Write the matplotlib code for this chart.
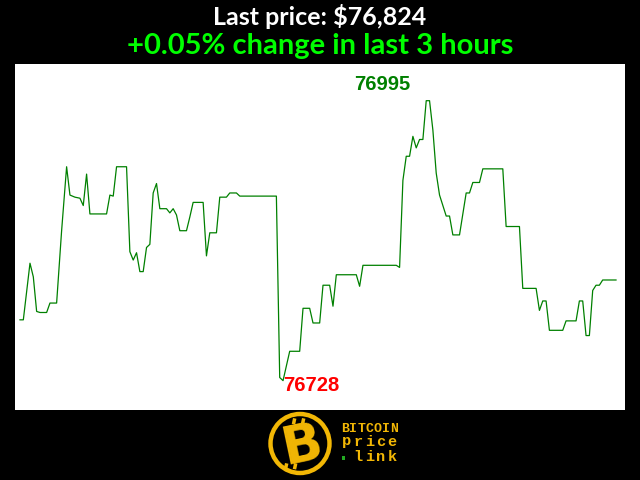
import matplotlib
matplotlib.use("Agg")
import matplotlib.pyplot as plt
from matplotlib.patches import Circle, Rectangle
import numpy as np

# minutes since start (3 hour window) and BTC price
minutes = [0, 1, 3, 4, 5, 6, 8, 9, 11, 12.5, 14, 15, 16.5, 18, 19, 20, 21, 26, 27, 28,
           29, 32, 33, 34, 35, 36, 37, 38, 39, 40, 41, 42, 44, 45, 46, 47, 48, 50, 51, 52,
           55, 56, 57, 59, 60, 62, 63, 65, 66, 77, 78, 79, 81, 84, 85, 87, 88, 90, 91, 93,
           94, 95, 101, 102, 103, 113, 114, 115, 116, 117, 118, 119, 120, 121, 122, 123, 124, 125, 126, 128,
           129, 130, 132, 134, 135, 136, 138, 139, 145, 146, 150, 151, 155, 156, 157, 158, 159, 163, 164, 167,
           168, 169, 170, 171, 172, 173, 174, 175, 179]
prices = [76786, 76786, 76840, 76827, 76794, 76793, 76793, 76802, 76802, 76871, 76932, 76905, 76903, 76902, 76895, 76925, 76887, 76887, 76905, 76904,
          76932, 76932, 76851, 76843, 76850, 76832, 76832, 76855, 76858, 76907, 76916, 76892, 76892, 76888, 76892, 76886, 76871, 76871, 76884, 76898,
          76898, 76847, 76869, 76869, 76903, 76903, 76907, 76907, 76904, 76904, 76731, 76728, 76756, 76756, 76797, 76797, 76783, 76783, 76819, 76819,
          76799, 76829, 76829, 76818, 76838, 76838, 76836, 76919, 76942, 76942, 76961, 76950, 76958, 76958, 76995, 76995, 76967, 76926, 76905, 76885,
          76885, 76867, 76867, 76907, 76907, 76917, 76917, 76930, 76930, 76875, 76875, 76816, 76816, 76795, 76804, 76804, 76776, 76776, 76785, 76785,
          76804, 76804, 76771, 76771, 76814, 76819, 76819, 76824, 76824]

last_price = prices[-1]
pct_change = (prices[-1] - prices[0]) / prices[0] * 100
hours = 3

fig = plt.figure(figsize=(6.4, 4.8), dpi=100, facecolor="black")

# titles
fig.text(0.5, 0.966, f"Last price: ${last_price:,}", color="white", fontsize=18,
         fontweight="bold", family="Lato", ha="center", va="center")
fig.text(0.5, 0.905, f"{pct_change:+.2f}% change in last {hours} hours", color="#00ff00",
         fontsize=21, fontweight="bold", family="Lato", ha="center", va="center")

ax = fig.add_axes([15 / 640, 70 / 480, 610 / 640, 346 / 480])
ax.set_facecolor("white")
ax.plot(minutes, prices, color="#008000", linewidth=0.9)
ax.set_xlim(-1.5, 181.7)
ax.set_ylim(76700, 77030)
ax.set_xticks([])
ax.set_yticks([])
for s in ax.spines.values():
    s.set_visible(False)

# max / min labels
i_max = int(np.argmax(prices))
i_min = int(np.argmin(prices))
ax.annotate(str(prices[i_max]), xy=(minutes[i_max], prices[i_max]), xytext=(-32, 12),
            textcoords="offset points", ha="center", va="center", color="#008000",
            fontsize=14.5, fontweight="bold", family="Liberation Sans")
ax.annotate(str(prices[i_min]), xy=(minutes[i_min], prices[i_min]), xytext=(20.5, -3.2),
            textcoords="offset points", ha="center", va="center", color="#ff0000",
            fontsize=14.5, fontweight="bold", family="Liberation Sans")

# logo
gold = "#f2b705"
lax = fig.add_axes([0, 0, 1, 1], facecolor="none")
lax.set_xlim(0, 640)
lax.set_ylim(480, 0)
lax.axis("off")
lax.add_patch(Circle((300, 443.5), 29.5, facecolor="black", edgecolor=gold, linewidth=3.2))
lax.text(302, 445, "B", color=gold, fontsize=38, fontweight="heavy", family="DejaVu Sans",
         ha="center", va="center", rotation=12)
for x0 in (293, 302):
    lax.add_patch(Rectangle((x0, 418), 3.5, 6, facecolor=gold, edgecolor="none", angle=12))
    lax.add_patch(Rectangle((x0 - 8, 463), 3.5, 6, facecolor=gold, edgecolor="none", angle=12))

logo_rows = [("BITCOIN", 429, 9.5), ("price", 441.5, 11), ("link", 457, 11)]
for word, yy, fs in logo_rows:
    n = len(word) if word != "link" else 5
    step = 57 / n
    start = 341 + step / 2
    if word == "link":
        lax.add_patch(Rectangle((341.5, 456), 3.5, 3.5, facecolor="#22aa22", edgecolor="none"))
        start += step
    for k, ch in enumerate(word):
        lax.text(start + k * step, yy, ch, color=gold, fontsize=fs, fontweight="bold",
                 family="Liberation Mono", ha="center", va="center")

fig.savefig("out.png", dpi=100, facecolor="black")
